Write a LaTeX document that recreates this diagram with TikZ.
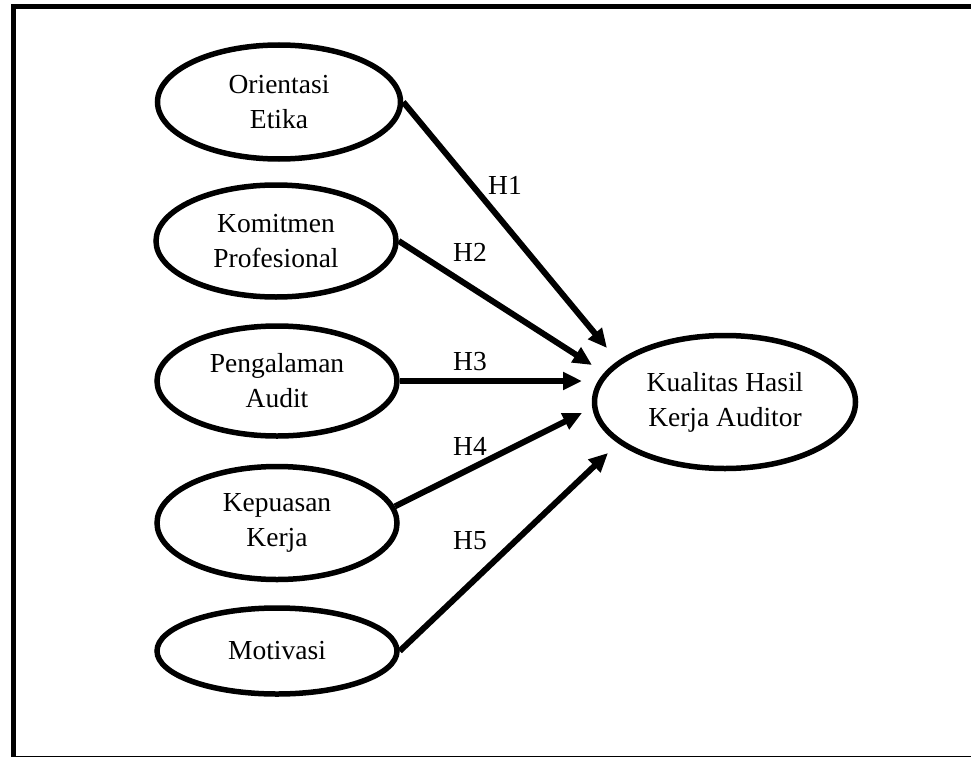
\documentclass[tikz,border=0pt]{standalone}
\usepackage{fontspec}
\setmainfont{Liberation Serif}
\usetikzlibrary{shapes.geometric,arrows.meta}
\begin{document}
\begin{tikzpicture}[x=1pt,y=-1pt,
  var/.style={ellipse, draw, line width=5.5pt, inner sep=0pt, align=center,
    font=\fontsize{27.5}{35}\selectfont},
  hyp/.style={line width=6pt, -{Triangle[length=19pt,width=17pt]}},
  lbl/.style={font=\fontsize{27.5}{35}\selectfont, inner sep=0pt}]
\useasboundingbox (0,0) rectangle (971,757);
% frame
\draw[line width=5pt, line join=miter] (13.5,757) -- (13.5,6.5) -- (971,6.5);
\draw[line width=1.3pt] (11,756.2) -- (971,756.2);
% variables
\node[var, minimum width=243pt, minimum height=114pt] (e1) at (279,102) {Orientasi\\Etika};
\node[var, minimum width=240pt, minimum height=112pt] (e2) at (276,241) {Komitmen\\Profesional};
\node[var, minimum width=240pt, minimum height=110pt] (e3) at (277,381) {Pengalaman\\Audit};
\node[var, minimum width=240pt, minimum height=113pt] (e4) at (277,523) {Kepuasan\\Kerja};
\node[var, minimum width=240pt, minimum height=86pt] (e5) at (277,651) {Motivasi};
\node[var, minimum width=261pt, minimum height=133pt] (y) at (725,402) {Kualitas Hasil\\Kerja Auditor};
% arrow tips near the dependent variable
\coordinate (t1) at (607,348);
\coordinate (t2) at (592,365);
\coordinate (t3) at (582,381);
\coordinate (t4) at (582,413);
\coordinate (t5) at (608,453);
\draw[hyp] (e1.east) -- (t1);
\draw[hyp] (e2.east) -- (t2);
\draw[hyp] (e3.east) -- (t3);
\draw[hyp] (e4.8) -- (t4);
\draw[hyp] (e5.east) -- (t5);
% labels
\node[lbl] (h1) at (505,185) {H1};
\node[lbl] (h2) at (470,252) {H2};
\node[lbl] (h3) at (470,362) {H3};
\node[lbl] (h4) at (470,446) {H4};
\node[lbl] (h5) at (470,541) {H5};
\end{tikzpicture}
\end{document}
